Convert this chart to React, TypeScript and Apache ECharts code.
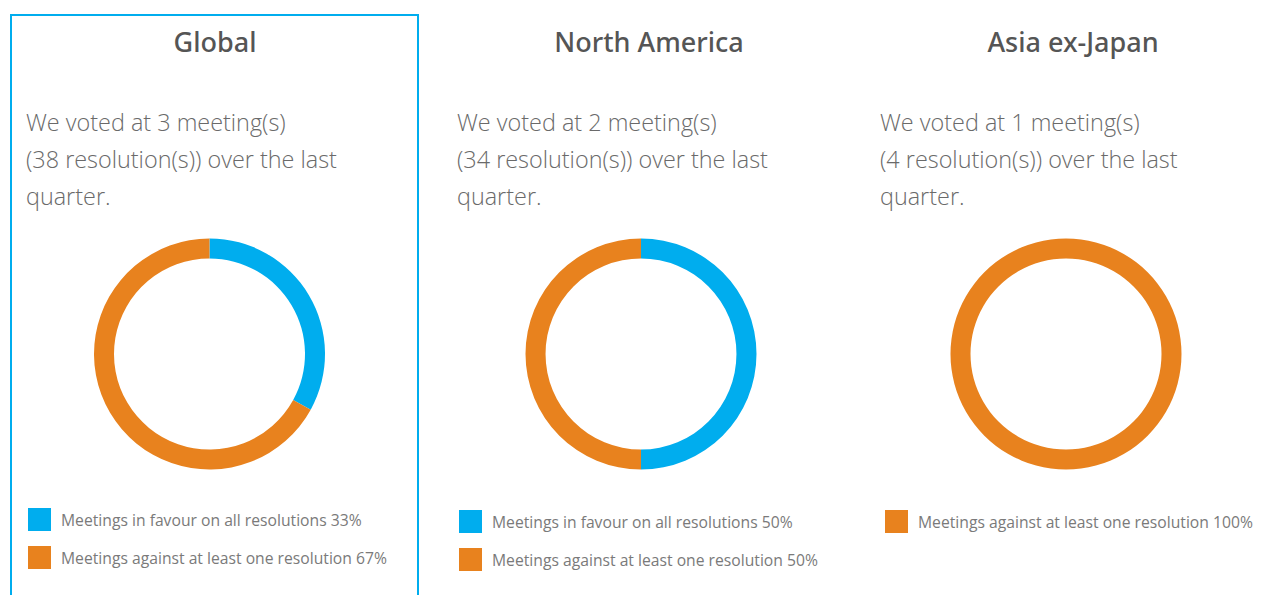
import React, { useEffect, useRef } from "react";
import * as echarts from "echarts";

const regions = ["Global", "North America", "Asia ex-Japan"];
const meetings = [3, 2, 1];
const resolutions = [38, 34, 4];
const favourPct = [33, 50, 0];
const againstPct = [67, 50, 100];
const favourLabel = "Meetings in favour on all resolutions";
const againstLabel = "Meetings against at least one resolution";

const BLUE = "#00adee";
const ORANGE = "#e8821e";
const FONT = "'Open Sans', 'Noto Sans', sans-serif";
const TITLE_FONT = "'Noto Sans', 'Open Sans', sans-serif";

const textX = [26, 457, 880];
const titleX = [215, 649, 1073];
const centerX = [209.5, 641, 1066];
const legendX = [28, 459, 885];
const legendY = [508, 510, 510];

export default function App() {
  const ref = useRef<HTMLDivElement>(null);
  useEffect(() => {
    document.body.style.margin = "0";
    const chart = echarts.init(ref.current!, null, { renderer: "svg" });

    const series: any[] = [];
    const legends: any[] = [];
    const titles: any[] = [];
    const graphics: any[] = [
      {
        type: "rect",
        shape: { x: 11, y: 15, width: 407, height: 600 },
        style: { fill: "none", stroke: BLUE, lineWidth: 2 },
        silent: true,
      },
    ];

    regions.forEach((r, i) => {
      const data: any[] = [];
      if (favourPct[i] > 0)
        data.push({ name: `${favourLabel} ${favourPct[i]}%`, value: favourPct[i], itemStyle: { color: BLUE } });
      if (againstPct[i] > 0)
        data.push({ name: `${againstLabel} ${againstPct[i]}%`, value: againstPct[i], itemStyle: { color: ORANGE } });
      series.push({
        type: "pie",
        center: [centerX[i], 354],
        radius: [95.5, 115.5],
        startAngle: 90,
        clockwise: true,
        label: { show: false },
        labelLine: { show: false },
        emphasis: { disabled: true },
        silent: true,
        data,
      });
      legends.push({
        left: legendX[i],
        top: legendY[i],
        orient: "vertical",
        icon: "rect",
        itemWidth: 23,
        itemHeight: 23,
        itemGap: 15,
        padding: 0,
        selectedMode: false,
        data: data.map((d) => d.name),
        textStyle: { fontFamily: FONT, fontSize: 15.7, color: "#7a7a7a", padding: [0, 0, 0, 5] },
      });
      titles.push({
        text: r,
        left: titleX[i],
        top: 28,
        textAlign: "center",
        padding: 0,
        textStyle: { fontFamily: TITLE_FONT, fontSize: 27, fontWeight: 500, color: "#555555" },
      });
      graphics.push({
        type: "text",
        x: textX[i],
        y: 103,
        silent: true,
        style: {
          text: `We voted at ${meetings[i]} meeting(s)\n(${resolutions[i]} resolution(s)) over the last\nquarter.`,
          fontFamily: FONT,
          fontSize: 23.4,
          fontWeight: 300,
          lineHeight: 37,
          fill: "#6a6a6a",
        },
      });
    });

    chart.setOption({
      animation: false,
      backgroundColor: "#ffffff",
      title: titles,
      legend: legends,
      series,
      graphic: graphics,
    });
    return () => chart.dispose();
  }, []);
  return <div ref={ref} style={{ width: 1261, height: 595 }} />;
}
